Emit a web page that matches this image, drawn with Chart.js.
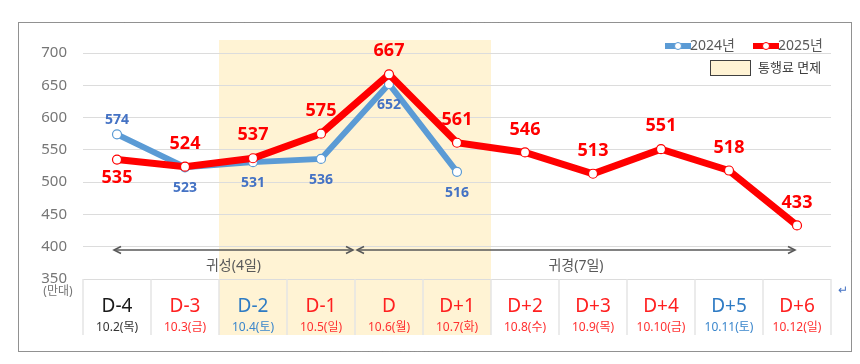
<!DOCTYPE html>
<html><head><meta charset="utf-8">
<script src="https://cdn.jsdelivr.net/npm/chart.js@4/dist/chart.umd.min.js"></script>
<style>html,body{margin:0;padding:0;background:#fff}#wrap{width:860px;height:364px}</style>
</head><body><div id="wrap"><canvas id="c" width="860" height="364"></canvas></div>
<script>
// ---- data ----
const categories = ['D-4','D-3','D-2','D-1','D','D+1','D+2','D+3','D+4','D+5','D+6'];
const dates = ['10.2(목)','10.3(금)','10.4(토)','10.5(일)','10.6(월)','10.7(화)','10.8(수)','10.9(목)','10.10(금)','10.11(토)','10.12(일)'];
const dayTypes = ['weekday','holiday','saturday','holiday','holiday','holiday','holiday','holiday','holiday','saturday','holiday'];
const values2024 = [574,523,531,536,652,516,null,null,null,null,null];
const values2025 = [535,524,537,575,667,561,546,513,551,518,433];
const yTicks = [350,400,450,500,550,600,650,700];
const yUnit = '(만대)';
const seriesNames = ['2024년','2025년'];
const tollFreeLabel = '통행료 면제';
const tollFreeRange = ['D-2','D+1'];
const periods = [
  {label:'귀성(4일)', from:'D-4', to:'D-1'},
  {label:'귀경(7일)', from:'D', to:'D+6'}
];

// ---- styles ----
const FONT = "'Noto Sans', 'Noto Sans CJK KR', sans-serif";
const RED = '#FF0000', BLUE = '#5B9BD5', BLUE_TXT = '#4472C4';
const BAND = '#FFF3D4';
const dayColor = {weekday:'#1a1a1a', holiday:'#FF2020', saturday:'#2E7BC4'};
const dateColor = {weekday:'#333333', holiday:'#FF3030', saturday:'#3A86CC'};

const deco = {
  id:'deco',
  beforeDraw(chart){
    const {ctx, chartArea:a, scales:{x}} = chart;
    const half = (x.getPixelForValue(1)-x.getPixelForValue(0))/2;
    ctx.save();
    ctx.fillStyle = '#fff'; ctx.fillRect(0,0,chart.width,chart.height);
    // dotted frame
    ctx.strokeStyle = '#222'; ctx.lineWidth = 1; ctx.setLineDash([1,1]);
    ctx.strokeRect(18.5,22.5,833,329);
    ctx.setLineDash([]);
    // toll free band
    const i0 = categories.indexOf(tollFreeRange[0]), i1 = categories.indexOf(tollFreeRange[1]);
    const bx0 = x.getPixelForValue(i0)-half, bx1 = x.getPixelForValue(i1)+half;
    ctx.fillStyle = BAND;
    ctx.fillRect(bx0, a.top-13, bx1-bx0, a.bottom+56-(a.top-13));
    ctx.restore();
  },
  afterDraw(chart){
    const {ctx, chartArea:a, scales:{x,y}} = chart;
    const half = (x.getPixelForValue(1)-x.getPixelForValue(0))/2;
    ctx.save();
    // table column borders
    ctx.strokeStyle = '#e4e4e4'; ctx.lineWidth = 1.5;
    for (let i=0;i<=categories.length;i++){
      const px = (i<categories.length ? x.getPixelForValue(i)-half : x.getPixelForValue(i-1)+half);
      ctx.beginPath(); ctx.moveTo(px, a.bottom); ctx.lineTo(px, a.bottom+56); ctx.stroke();
    }
    // category texts
    ctx.textAlign = 'center'; ctx.textBaseline = 'middle';
    categories.forEach((c,i)=>{
      const px = x.getPixelForValue(i);
      ctx.fillStyle = dayColor[dayTypes[i]];
      ctx.font = `19px ${FONT}`;
      ctx.fillText(c, px, a.bottom+28);
      ctx.fillStyle = dateColor[dayTypes[i]];
      ctx.font = `12px ${FONT}`;
      ctx.fillText(dates[i], px, a.bottom+49);
    });
    // unit
    ctx.fillStyle = '#767676'; ctx.font = `12px ${FONT}`;
    ctx.fillText(yUnit, 58, a.bottom+13);
    // period arrows
    const ay = y.getPixelForValue(395);
    ctx.strokeStyle = '#595959'; ctx.lineWidth = 1.6;
    periods.forEach((p,k)=>{
      const f = categories.indexOf(p.from), t = categories.indexOf(p.to);
      let xs = k===0 ? x.getPixelForValue(f)-3 : x.getPixelForValue(f)-half+2;
      let xe = k===0 ? x.getPixelForValue(t)+half-2 : x.getPixelForValue(t)-2;
      ctx.beginPath(); ctx.moveTo(xs,ay); ctx.lineTo(xe,ay); ctx.stroke();
      ctx.beginPath(); ctx.moveTo(xs+7,ay-3.5); ctx.lineTo(xs,ay); ctx.lineTo(xs+7,ay+3.5); ctx.stroke();
      ctx.beginPath(); ctx.moveTo(xe-7,ay-3.5); ctx.lineTo(xe,ay); ctx.lineTo(xe-7,ay+3.5); ctx.stroke();
      ctx.fillStyle = '#595959'; ctx.font = `14px ${FONT}`;
      ctx.fillText(p.label, (xs+xe)/2, ay+16);
    });
    // legend
    const ly = 46;
    const items = [{c:BLUE, x:665, name:seriesNames[0]},{c:RED, x:753, name:seriesNames[1]}];
    items.forEach(it=>{
      ctx.strokeStyle = it.c; ctx.lineWidth = 6; ctx.lineCap='butt';
      ctx.beginPath(); ctx.moveTo(it.x, ly); ctx.lineTo(it.x+26, ly); ctx.stroke();
      ctx.fillStyle = '#fff'; ctx.lineWidth = 1;
      ctx.beginPath(); ctx.arc(it.x+13, ly, 3.5, 0, Math.PI*2); ctx.fill(); ctx.stroke();
      ctx.fillStyle = '#595959'; ctx.font = `14px ${FONT}`; ctx.textAlign='left';
      ctx.fillText(it.name, it.x+25, ly);
    });
    ctx.fillStyle = BAND; ctx.fillRect(710.5,60.5,40,15);
    ctx.strokeStyle = '#404040'; ctx.lineWidth = 1; ctx.strokeRect(710.5,60.5,40,15);
    ctx.fillStyle = '#404040'; ctx.font = `13px ${FONT}`; ctx.textAlign='left';
    ctx.fillText(tollFreeLabel, 758, 68);
    // word marks
    ctx.fillStyle = '#4472C4'; ctx.font = `12px ${FONT}`;
    ctx.fillText('↵', 838, 291);
    ctx.restore();
  },
  afterDatasetsDraw(chart){
    const {ctx} = chart;
    ctx.save(); ctx.textAlign='center'; ctx.textBaseline='middle';
    const m25 = chart.getDatasetMeta(0), m24 = chart.getDatasetMeta(1);
    values2025.forEach((v,i)=>{
      const p = m25.data[i]; const o = values2024[i];
      const above = !(o!=null && o>v);
      ctx.fillStyle = RED; ctx.font = `bold 18px ${FONT}`;
      ctx.fillText(String(v), p.x, above ? p.y-23 : p.y+18);
    });
    values2024.forEach((v,i)=>{
      if (v==null) return;
      const p = m24.data[i]; const o = values2025[i];
      const above = v>o;
      ctx.fillStyle = BLUE_TXT; ctx.font = `bold 14px ${FONT}`;
      ctx.fillText(String(v), p.x, above ? p.y-14 : p.y+21);
    });
    ctx.restore();
  }
};

new Chart(document.getElementById('c'), {
  type:'line',
  data:{
    labels: categories,
    datasets:[
      {label:seriesNames[1], data:values2025, borderColor:RED, borderWidth:7, pointRadius:4.5,
       pointBackgroundColor:'#fff', pointBorderColor:RED, pointBorderWidth:1.2, tension:0},
      {label:seriesNames[0], data:values2024, borderColor:BLUE, borderWidth:6, pointRadius:4.5,
       pointBackgroundColor:'#fff', pointBorderColor:BLUE, pointBorderWidth:1.2, tension:0, spanGaps:false}
    ]
  },
  options:{
    responsive:false, animation:false, devicePixelRatio:1,
    layout:{padding:{left:0, top:53, right:29, bottom:85}},
    plugins:{legend:{display:false}, tooltip:{enabled:false}},
    scales:{
      x:{type:'category', offset:true, display:false},
      y:{min:350, max:700,
         afterFit(s){ s.width = 83; },
         afterBuildTicks(s){ s.ticks = yTicks.map(v=>({value:v})); },
         grid:{color:'#dcdcdc', drawTicks:false, lineWidth:1},
         border:{display:false},
         ticks:{padding:16, color:'#767676', font:{family:FONT, size:15}}}
    }
  },
  plugins:[deco]
});
</script></body></html>
